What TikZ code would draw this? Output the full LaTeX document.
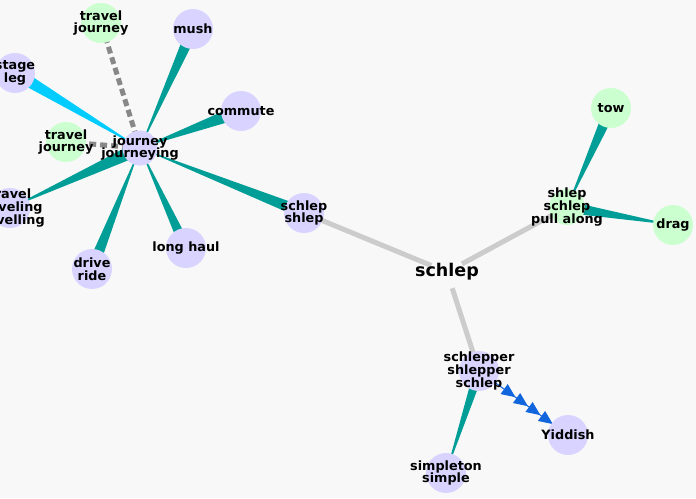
\documentclass[tikz,border=0pt]{standalone}
\usepackage{fontspec}
\setmainfont{DejaVu Sans}
\usetikzlibrary{arrows.meta,calc,backgrounds,decorations.markings}
\definecolor{paper}{RGB}{248,248,248}
\definecolor{lavfill}{RGB}{216,212,255}
\definecolor{mintfill}{RGB}{204,255,208}
\definecolor{tealw}{RGB}{0,158,150}
\definecolor{cyanw}{RGB}{0,204,255}
\definecolor{arrowblue}{RGB}{17,102,221}
\definecolor{linkgray}{RGB}{204,204,204}
\definecolor{dashgray}{RGB}{136,136,136}
% tapered spoke: [colour]{wide end}{thin end}{half width}
\newcommand{\taper}[4][tealw]{%
 \fill[#1] ($(#2.center)!#4!90:(#3.center)$) -- ($(#2.center)!#4!-90:(#3.center)$) -- (#3.center) -- cycle;}
\begin{document}
\begin{tikzpicture}[x=1pt,y=-1pt,
 word/.style={align=center,inner sep=0pt,font=\fontsize{12.8}{12.8}\selectfont\bfseries},
 lav/.style={circle,fill=lavfill,minimum size=40pt,inner sep=0pt},
 mint/.style={circle,fill=mintfill,minimum size=40pt,inner sep=0pt},
 hole/.style={circle,fill=paper,minimum size=34pt,inner sep=0pt},
 link/.style={draw=linkgray,line width=5pt},
 seealso/.style={draw=dashgray,line width=5pt,dash pattern=on 7pt off 4pt},
 origin/.style={draw=arrowblue,line width=1pt,postaction={decorate},
  decoration={markings,
   mark=at position 0.41 with {\arrow{Triangle[length=14pt,width=12pt]}},
   mark=at position 0.55 with {\arrow{Triangle[length=14pt,width=12pt]}},
   mark=at position 0.69 with {\arrow{Triangle[length=14pt,width=12pt]}},
   mark=at position 0.83 with {\arrow{Triangle[length=14pt,width=12pt]}}}}]
\useasboundingbox (0,0) rectangle (696,498);
% synsets
\node[lav,minimum size=35pt,label={[word]center:journey\\journeying}] (jour) at (140,148) {};
\node[mint,label={[word]center:travel\\journey}] (tjtop) at (101,23) {};
\node[mint,label={[word]center:travel\\journey}] (tjleft) at (66,142) {};
\node[lav,label={[word]center:mush}] (mush) at (193,29) {};
\node[lav,label={[word]center:stage\\leg}] (stage) at (15,73) {};
\node[lav,label={[word]center:commute}] (commute) at (241,111) {};
\node[lav,label={[word]center:travel\\traveling\\travelling}] (trav) at (10,208) {};
\node[lav,label={[word]center:drive\\ride}] (drive) at (92,269) {};
\node[lav,label={[word]center:long haul}] (haul) at (186,248) {};
\node[lav,label={[word]center:schlep\\shlep}] (schv) at (304,213) {};
\node[hole,label={[word,font=\fontsize{17.5}{19}\selectfont\bfseries]center:schlep}] (root) at (447,272) {};
\node[mint,minimum size=36pt,label={[word]center:shlep\\schlep\\pull along}] (pull) at (567,207) {};
\node[mint,label={[word]center:tow}] (tow) at (611,108) {};
\node[mint,label={[word]center:drag}] (drag) at (673,225) {};
\node[lav,label={[word]center:schlepper\\shlepper\\schlep}] (schn) at (479,371) {};
\node[lav,label={[word]center:Yiddish}] (yid) at (568,435) {};
\node[lav,label={[word]center:simpleton\\simple}] (simp) at (446,473) {};
% relations under the nodes
\begin{pgfonlayer}{background}
\fill[paper] (0,0) rectangle (696,498);
\taper{mush}{jour}{6pt}
\taper{commute}{jour}{7pt}
\taper[cyanw]{stage}{jour}{6.5pt}
\taper{jour}{trav}{7pt}
\taper{drive}{jour}{6pt}
\taper{haul}{jour}{5.5pt}
\taper{schv}{jour}{6pt}
\taper{tow}{pull}{6pt}
\taper{pull}{drag}{6pt}
\taper{schn}{simp}{5pt}
\draw[seealso] (jour.center) -- (tjtop.center);
\draw[seealso] (jour.center) -- (tjleft.center);
\draw[link] (root.center) -- (schv.center);
\draw[link] (root.center) -- (pull.center);
\draw[link] (root.center) -- (schn.center);
\draw[origin] (schn.center) -- (yid.center);
\end{pgfonlayer}
\end{tikzpicture}
\end{document}
